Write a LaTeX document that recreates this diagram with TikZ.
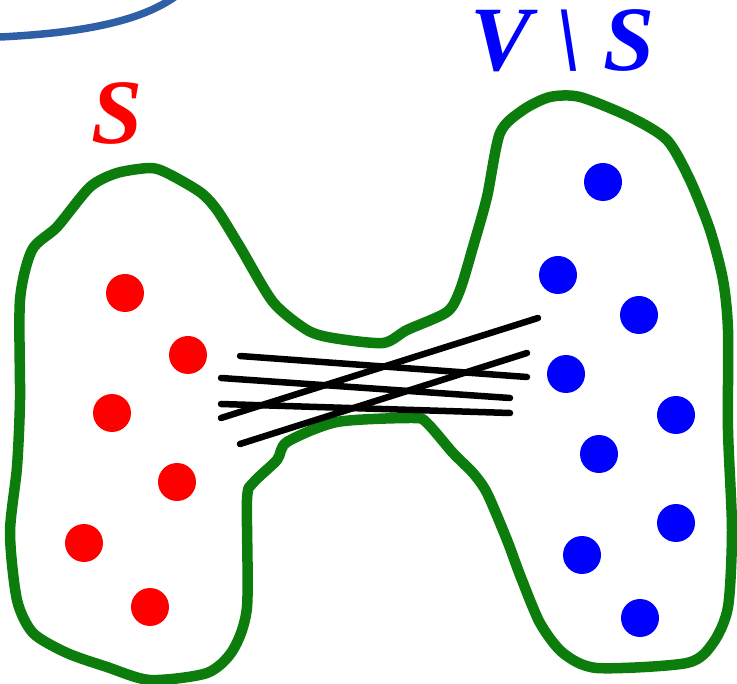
\documentclass[tikz,border=0pt]{standalone}
\usepackage{fontspec}
\setmainfont{Liberation Serif}
\definecolor{cutgreen}{RGB}{12,125,12}
\definecolor{frameblue}{RGB}{47,96,166}
\tikzset{
  setlabel/.style={font=\fontsize{92}{92}\selectfont\bfseries\itshape, inner sep=0pt, anchor=base},
  sdot/.style={circle, fill=red, minimum size=38pt, inner sep=0pt},
  rdot/.style={circle, fill=blue, minimum size=38pt, inner sep=0pt},
  cutedge/.style={line width=6.5pt, line cap=round},
  boundary/.style={draw=cutgreen, line width=10.5pt, line join=round},
}
\begin{document}
\begin{tikzpicture}[x=1pt, y=-1pt]
\useasboundingbox (0,0) rectangle (737,684);

% piece of a frame at the top left
\draw[frameblue, line width=7.5pt] (0,37) .. controls (80,33) and (140,22) .. (176,-4);

% the cut
\draw[boundary] plot[smooth cycle, tension=0.45] coordinates {
  (20,300) (32,250) (57,227) (90,187) (117,173) (150,168) (167,173) (200,192)
  (217,210) (240,247) (273,302) (307,330) (333,338) (383,343) (407,330)
  (447,312) (460,290) (473,247) (487,197) (500,133) (523,110) (550,97)
  (580,97) (630,117) (667,140) (690,180) (710,230) (723,280) (728,330)
  (728,430) (732,530) (728,607) (713,643) (687,663) (597,668) (563,653)
  (540,623) (520,575) (507,540) (487,493) (473,473) (453,453) (427,423)
  (413,418) (337,422) (287,442) (277,460) (253,483) (247,500) (247,607)
  (233,650) (207,673) (150,680) (107,667) (67,653) (33,633) (17,600)
  (10,533) (17,467) (20,400)};

\node[setlabel, text=red] (lblS) at (117,144) {S};
\node[setlabel, text=blue] (lblVS) at (563,71) {V \textbackslash{} S};

% vertices in S
\node[sdot] (s1) at (125,293) {};
\node[sdot] (s2) at (188,355) {};
\node[sdot] (s3) at (112,413) {};
\node[sdot] (s4) at (177,482) {};
\node[sdot] (s5) at (84,543) {};
\node[sdot] (s6) at (150,607) {};

% vertices in V \ S
\node[rdot] (r1) at (603,182) {};
\node[rdot] (r2) at (558,275) {};
\node[rdot] (r3) at (639,315) {};
\node[rdot] (r4) at (566,374) {};
\node[rdot] (r5) at (676,415) {};
\node[rdot] (r6) at (599,454) {};
\node[rdot] (r7) at (676,523) {};
\node[rdot] (r8) at (582,555) {};
\node[rdot] (r9) at (640,618) {};

% edges crossing the cut
\coordinate (a1) at (240,356); \coordinate (b1) at (527,377);
\coordinate (a2) at (221,378); \coordinate (b2) at (510,398);
\coordinate (a3) at (221,404); \coordinate (b3) at (510,413);
\coordinate (a4) at (221,418); \coordinate (b4) at (538,318);
\coordinate (a5) at (240,444); \coordinate (b5) at (527,353);
\draw[cutedge] (a1) -- (b1);
\draw[cutedge] (a2) -- (b2);
\draw[cutedge] (a3) -- (b3);
\draw[cutedge] (a4) -- (b4);
\draw[cutedge] (a5) -- (b5);
\end{tikzpicture}
\end{document}
